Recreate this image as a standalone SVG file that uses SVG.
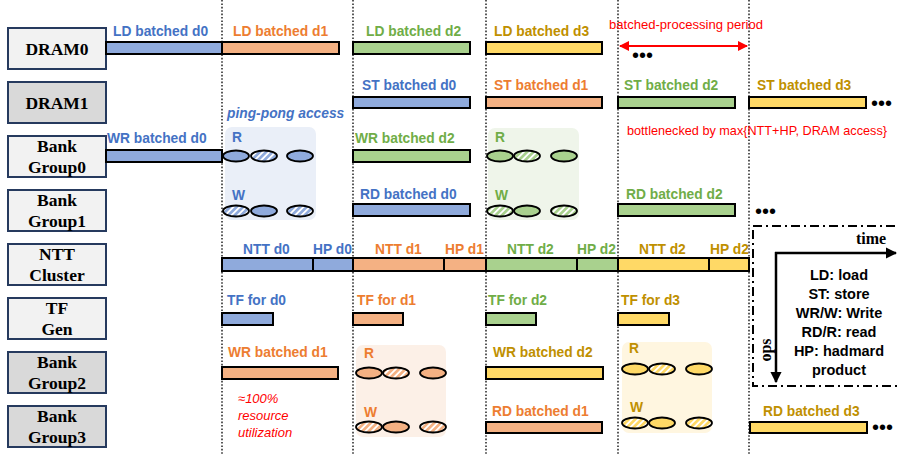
<svg xmlns="http://www.w3.org/2000/svg" width="898" height="454" viewBox="0 0 898 454">
  <defs>
    <style>
      .unit { fill: #f2f2f2; stroke: #263a5e; stroke-width: 2; }
      .unit.dark { fill: #d9d9d9; }
      .unitTxt { font-family: "Liberation Serif", "Times New Roman", serif; font-weight: bold; font-size: 17.5px; fill: #000; text-anchor: middle; }
      .lbl { font-family: "Liberation Sans", Arial, sans-serif; font-weight: bold; font-size: 13.8px; }
      .bar { stroke: #000; stroke-width: 2; }
      .ell { stroke: #000; stroke-width: 1.8; }
      .b { fill: #8faadc; } .o { fill: #f4b183; } .g { fill: #a9d18e; } .y { fill: #ffd966; }
      .tb { fill: #4472c4; } .to { fill: #ed7d31; } .tg { fill: #70ad47; } .ty { fill: #bf9000; }
      .div { stroke: #000; stroke-width: 1.3; stroke-dasharray: 1.6 1.8; }
      .red { font-family: "Liberation Sans", Arial, sans-serif; font-size: 13px; fill: #ff0000; }
      .dots { font-family: "Liberation Sans", Arial, sans-serif; font-size: 20px; fill: #000; }
      .legend { font-family: "Liberation Sans", Arial, sans-serif; font-weight: bold; font-size: 14.5px; fill: #000; text-anchor: middle; }
    </style>
    <pattern id="hatch-b" patternUnits="userSpaceOnUse" width="4.5" height="4.5" patternTransform="rotate(45)">
      <rect width="4.5" height="4.5" fill="#8faadc"/><rect width="1.8" height="4.5" fill="#fff"/>
    </pattern>
    <pattern id="hatch-g" patternUnits="userSpaceOnUse" width="4.5" height="4.5" patternTransform="rotate(45)">
      <rect width="4.5" height="4.5" fill="#a9d18e"/><rect width="1.8" height="4.5" fill="#fff"/>
    </pattern>
    <pattern id="hatch-o" patternUnits="userSpaceOnUse" width="4.5" height="4.5" patternTransform="rotate(45)">
      <rect width="4.5" height="4.5" fill="#f4b183"/><rect width="1.8" height="4.5" fill="#fff"/>
    </pattern>
    <pattern id="hatch-y" patternUnits="userSpaceOnUse" width="4.5" height="4.5" patternTransform="rotate(45)">
      <rect width="4.5" height="4.5" fill="#ffd966"/><rect width="1.8" height="4.5" fill="#fff"/>
    </pattern>
    <marker id="redHead" viewBox="0 0 10 10" refX="9" refY="5" markerWidth="5" markerHeight="5" orient="auto-start-reverse">
      <path d="M0,0 L10,5 L0,10 z" fill="#ff0000"/>
    </marker>
    <marker id="blackHead" viewBox="0 0 10 10" refX="9" refY="5" markerWidth="4.5" markerHeight="4.5" orient="auto">
      <path d="M0,0 L10,5 L0,10 z" fill="#000"/>
    </marker>
  </defs>

  <rect width="898" height="454" fill="#fff"/>

  <!-- ping-pong access regions -->
  <g id="pingpong-regions">
    <rect x="225" y="127" width="91" height="93" rx="7" fill="#eaeff8"/>
    <rect x="488" y="128" width="91" height="92" rx="7" fill="#eff5ea"/>
    <rect x="356" y="345" width="90" height="92" rx="7" fill="#fcf0e7"/>
    <rect x="622" y="342" width="90" height="91" rx="7" fill="#fff6e0"/>
  </g>

  <!-- period boundaries -->
  <g id="dividers">
    <line class="div" x1="222" y1="0" x2="222" y2="454"/>
    <line class="div" x1="353" y1="0" x2="353" y2="454"/>
    <line class="div" x1="486" y1="0" x2="486" y2="454"/>
    <line class="div" x1="618" y1="0" x2="618" y2="454"/>
    <line class="div" x1="749" y1="0" x2="749" y2="454"/>
  </g>

  <!-- hardware units -->
  <g id="dram0"><rect class="unit" x="8" y="28" width="98" height="41"/><text class="unitTxt" x="57" y="55">DRAM0</text></g>
  <g id="dram1"><rect class="unit dark" x="8" y="82" width="98" height="41"/><text class="unitTxt" x="57" y="109">DRAM1</text></g>
  <g id="bank-group0"><rect class="unit" x="8" y="136" width="98" height="41"/><text class="unitTxt" x="57" y="152">Bank</text><text class="unitTxt" x="57" y="173">Group0</text></g>
  <g id="bank-group1"><rect class="unit" x="8" y="190" width="98" height="41"/><text class="unitTxt" x="57" y="206">Bank</text><text class="unitTxt" x="57" y="227">Group1</text></g>
  <g id="ntt-cluster"><rect class="unit" x="8" y="244" width="98" height="41"/><text class="unitTxt" x="57" y="260">NTT</text><text class="unitTxt" x="57" y="281">Cluster</text></g>
  <g id="tf-gen"><rect class="unit" x="8" y="298" width="98" height="41"/><text class="unitTxt" x="57" y="314">TF</text><text class="unitTxt" x="57" y="335">Gen</text></g>
  <g id="bank-group2"><rect class="unit dark" x="8" y="352" width="98" height="41"/><text class="unitTxt" x="57" y="368">Bank</text><text class="unitTxt" x="57" y="389">Group2</text></g>
  <g id="bank-group3"><rect class="unit dark" x="8" y="406" width="98" height="41"/><text class="unitTxt" x="57" y="422">Bank</text><text class="unitTxt" x="57" y="443">Group3</text></g>

  <!-- DRAM0 loads -->
  <g id="row-dram0">
    <rect class="bar b" x="106" y="42" width="116" height="12"/>
    <rect class="bar o" x="222" y="42" width="117" height="12"/>
    <rect class="bar g" x="353" y="42" width="117" height="12"/>
    <rect class="bar y" x="486" y="42" width="116" height="12"/>
    <text class="lbl tb" x="113" y="36">LD batched d0</text>
    <text class="lbl to" x="233" y="36">LD batched d1</text>
    <text class="lbl tg" x="366" y="36">LD batched d2</text>
    <text class="lbl ty" x="494" y="36">LD batched d3</text>
  </g>

  <!-- DRAM1 stores -->
  <g id="row-dram1">
    <rect class="bar b" x="353" y="97" width="117" height="11"/>
    <rect class="bar o" x="486" y="97" width="116" height="11"/>
    <rect class="bar g" x="618" y="97" width="117" height="11"/>
    <rect class="bar y" x="749" y="97" width="117" height="11"/>
    <text class="lbl tb" x="362" y="90">ST batched d0</text>
    <text class="lbl to" x="494" y="90">ST batched d1</text>
    <text class="lbl tg" x="624" y="90">ST batched d2</text>
    <text class="lbl ty" x="757" y="90">ST batched d3</text>
    <text class="dots" x="871" y="110">•••</text>
  </g>

  <!-- Bank group 0 / 1 -->
  <g id="row-bg0">
    <rect class="bar b" x="106" y="150" width="116" height="12"/>
    <rect class="bar g" x="353" y="150" width="117" height="12"/>
    <text class="lbl tb" x="107" y="143">WR batched d0</text>
    <text class="lbl tg" x="355" y="143">WR batched d2</text>
  </g>
  <g id="row-bg1">
    <rect class="bar b" x="353" y="204" width="117" height="12"/>
    <rect class="bar g" x="618" y="204" width="117" height="12"/>
    <text class="lbl tb" x="360" y="199">RD batched d0</text>
    <text class="lbl tg" x="626" y="199">RD batched d2</text>
    <text class="dots" x="755" y="218">•••</text>
  </g>

  <!-- NTT cluster -->
  <g id="row-ntt">
    <rect class="bar b" x="222" y="258" width="91" height="13"/>
    <rect class="bar b" x="313" y="258" width="40" height="13"/>
    <rect class="bar o" x="353" y="258" width="91" height="13"/>
    <rect class="bar o" x="444" y="258" width="42" height="13"/>
    <rect class="bar g" x="486" y="258" width="91" height="13"/>
    <rect class="bar g" x="577" y="258" width="41" height="13"/>
    <rect class="bar y" x="618" y="258" width="91" height="13"/>
    <rect class="bar y" x="709" y="258" width="40" height="13"/>
    <text class="lbl tb" x="243" y="254">NTT d0</text>
    <text class="lbl tb" x="313" y="254">HP d0</text>
    <text class="lbl to" x="375" y="254">NTT d1</text>
    <text class="lbl to" x="445" y="254">HP d1</text>
    <text class="lbl tg" x="507" y="254">NTT d2</text>
    <text class="lbl tg" x="577" y="254">HP d2</text>
    <text class="lbl ty" x="639" y="254">NTT d2</text>
    <text class="lbl ty" x="710" y="254">HP d2</text>
  </g>

  <!-- twiddle factor generation -->
  <g id="row-tf">
    <rect class="bar b" x="222" y="313" width="51" height="12"/>
    <rect class="bar o" x="353" y="313" width="50" height="12"/>
    <rect class="bar g" x="486" y="313" width="50" height="12"/>
    <rect class="bar y" x="618" y="313" width="51" height="12"/>
    <text class="lbl tb" x="227" y="305">TF for d0</text>
    <text class="lbl to" x="357" y="305">TF for d1</text>
    <text class="lbl tg" x="488" y="305">TF for d2</text>
    <text class="lbl ty" x="621" y="305">TF for d3</text>
  </g>

  <!-- Bank group 2 / 3 -->
  <g id="row-bg2">
    <rect class="bar o" x="222" y="367" width="116" height="12"/>
    <rect class="bar y" x="486" y="367" width="117" height="12"/>
    <text class="lbl to" x="228" y="357">WR batched d1</text>
    <text class="lbl ty" x="493" y="357">WR batched d2</text>
  </g>
  <g id="row-bg3">
    <rect class="bar o" x="486" y="422" width="116" height="11"/>
    <rect class="bar y" x="750" y="422" width="117" height="11"/>
    <text class="lbl to" x="492" y="416">RD batched d1</text>
    <text class="lbl ty" x="763" y="416">RD batched d3</text>
    <text class="dots" x="872" y="434">•••</text>
  </g>

  <!-- ping-pong read/write accesses -->
  <g id="pingpong-blue">
    <text x="227" y="118" font-family="Liberation Sans, Arial, sans-serif" font-weight="bold" font-style="italic" font-size="13.8" fill="#4472c4">ping-pong access</text>
    <text class="lbl tb" x="232" y="142">R</text>
    <text class="lbl tb" x="232" y="200">W</text>
    <ellipse class="ell b" cx="236" cy="156" rx="13" ry="5.5"/>
    <ellipse class="ell" cx="264" cy="156" rx="13" ry="5.5" fill="url(#hatch-b)"/>
    <ellipse class="ell b" cx="300" cy="156" rx="13" ry="5.5"/>
    <ellipse class="ell" cx="236" cy="211" rx="13" ry="5.5" fill="url(#hatch-b)"/>
    <ellipse class="ell b" cx="264" cy="211" rx="13" ry="5.5"/>
    <ellipse class="ell" cx="300" cy="211" rx="13" ry="5.5" fill="url(#hatch-b)"/>
  </g>
  <g id="pingpong-green">
    <text class="lbl tg" x="495" y="142">R</text>
    <text class="lbl tg" x="495" y="200">W</text>
    <ellipse class="ell g" cx="500" cy="156" rx="13" ry="5.5"/>
    <ellipse class="ell" cx="527" cy="156" rx="13" ry="5.5" fill="url(#hatch-g)"/>
    <ellipse class="ell g" cx="564" cy="156" rx="13" ry="5.5"/>
    <ellipse class="ell" cx="500" cy="211" rx="13" ry="5.5" fill="url(#hatch-g)"/>
    <ellipse class="ell g" cx="527" cy="211" rx="13" ry="5.5"/>
    <ellipse class="ell" cx="564" cy="211" rx="13" ry="5.5" fill="url(#hatch-g)"/>
  </g>
  <g id="pingpong-orange">
    <text class="lbl to" x="364" y="358">R</text>
    <text class="lbl to" x="364" y="417">W</text>
    <ellipse class="ell o" cx="369" cy="373" rx="13" ry="5.5"/>
    <ellipse class="ell" cx="396" cy="373" rx="13" ry="5.5" fill="url(#hatch-o)"/>
    <ellipse class="ell o" cx="433" cy="373" rx="13" ry="5.5"/>
    <ellipse class="ell" cx="369" cy="427" rx="13" ry="5.5" fill="url(#hatch-o)"/>
    <ellipse class="ell o" cx="396" cy="427" rx="13" ry="5.5"/>
    <ellipse class="ell" cx="433" cy="427" rx="13" ry="5.5" fill="url(#hatch-o)"/>
  </g>
  <g id="pingpong-yellow">
    <text class="lbl ty" x="629" y="353">R</text>
    <text class="lbl ty" x="630" y="412">W</text>
    <ellipse class="ell y" cx="635" cy="369" rx="13" ry="5.5"/>
    <ellipse class="ell" cx="662" cy="369" rx="13" ry="5.5" fill="url(#hatch-y)"/>
    <ellipse class="ell y" cx="699" cy="369" rx="13" ry="5.5"/>
    <ellipse class="ell" cx="635" cy="423" rx="13" ry="5.5" fill="url(#hatch-y)"/>
    <ellipse class="ell y" cx="662" cy="423" rx="13" ry="5.5"/>
    <ellipse class="ell" cx="699" cy="423" rx="13" ry="5.5" fill="url(#hatch-y)"/>
  </g>

  <!-- annotations -->
  <g id="annotations">
    <text class="red" x="609" y="29" textLength="154" lengthAdjust="spacingAndGlyphs">batched-processing period</text>
    <line x1="620" y1="46" x2="747" y2="46" stroke="#ff0000" stroke-width="2" marker-start="url(#redHead)" marker-end="url(#redHead)"/>
    <text class="dots" x="632" y="62">•••</text>
    <text class="red" x="627" y="135" textLength="260" lengthAdjust="spacingAndGlyphs">bottlenecked by max{NTT+HP, DRAM access}</text>
    <text class="red" font-style="italic" x="238" y="403">≈100%</text>
    <text class="red" font-style="italic" x="238" y="420">resource</text>
    <text class="red" font-style="italic" x="238" y="437">utilization</text>
  </g>

  <!-- legend -->
  <g id="legend">
    <rect x="753" y="226" width="160" height="160" fill="none" stroke="#000" stroke-width="2" stroke-dasharray="9 4 2 4"/>
    <line x1="775" y1="253" x2="896" y2="253" stroke="#000" stroke-width="2.5" marker-end="url(#blackHead)"/>
    <line x1="776" y1="252" x2="776" y2="382" stroke="#000" stroke-width="2.5" marker-end="url(#blackHead)"/>
    <text x="856" y="244" font-family="Liberation Serif, Times New Roman, serif" font-weight="bold" font-size="16">time</text>
    <text transform="translate(771,350) rotate(-90)" text-anchor="middle" font-family="Liberation Serif, Times New Roman, serif" font-weight="bold" font-size="16">ops</text>
    <text class="legend" x="839" y="280">LD: load</text>
    <text class="legend" x="839" y="299">ST: store</text>
    <text class="legend" x="839" y="318">WR/W: Write</text>
    <text class="legend" x="839" y="337">RD/R: read</text>
    <text class="legend" x="839" y="356">HP: hadmard</text>
    <text class="legend" x="839" y="375">product</text>
  </g>
</svg>
